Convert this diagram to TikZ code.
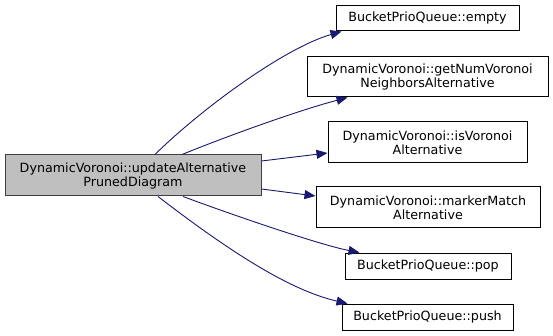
\documentclass[tikz,border=0pt]{standalone}
\usepackage{fontspec}
\setmainfont{DejaVu Sans}
\usetikzlibrary{arrows.meta,calc}
\definecolor{edgeblue}{HTML}{191970}
\definecolor{mainfill}{HTML}{BFBFBF}
\definecolor{mainborder}{HTML}{404040}
\begin{document}
\begin{tikzpicture}[x=1pt,y=-1pt,
  box/.style={draw=black,line width=1pt,fill=white,inner sep=0pt,align=center,
    font=\fontsize{12.7}{14}\selectfont},
  mainbox/.style={box,fill=mainfill,draw=mainborder},
  call/.style={draw=edgeblue,line width=0.9pt,
    -{Triangle[length=11pt,width=9pt,fill=edgeblue]}}]
\useasboundingbox (0,0) rectangle (553,336);

% caller
\node[mainbox,minimum width=256pt,minimum height=41pt] (main) at (133,175.5)
  {DynamicVoronoi::updateAlternative\\PrunedDiagram};

% callees
\node[box,minimum width=183pt,minimum height=25pt] (empty) at (427.5,18.5)
  {BucketPrioQueue::empty};
\node[box,minimum width=241pt,minimum height=40pt] (nbr) at (427.5,77)
  {DynamicVoronoi::getNumVoronoi\\NeighborsAlternative};
\node[box,minimum width=199pt,minimum height=41pt] (isv) at (427.5,142.5)
  {DynamicVoronoi::isVoronoi\\Alternative};
\node[box,minimum width=224pt,minimum height=41pt] (mm) at (428,207.5)
  {DynamicVoronoi::markerMatch\\Alternative};
\node[box,minimum width=166pt,minimum height=26pt] (pop) at (428,266)
  {BucketPrioQueue::pop};
\node[box,minimum width=171pt,minimum height=26pt] (push) at (427.5,317)
  {BucketPrioQueue::push};

% call edges (shifts are in page points, up is positive)
\draw[call] ([xshift=22pt]main.north) .. controls (200,110) and (284,48) .. ([xshift=6pt]empty.south west);
\draw[call] ([xshift=49pt]main.north) .. controls (230,135) and (300,110) .. ([xshift=41pt]nbr.south west);
\draw[call] ([yshift=14.5pt]main.east) -- ([yshift=-10.5pt]isv.west);
\draw[call] ([yshift=-13.5pt]main.east) -- ([yshift=11.5pt]mm.west);
\draw[call] ([xshift=50pt]main.south) .. controls (230,214) and (320,245) .. ([xshift=15pt]pop.north west);
\draw[call] ([xshift=25pt]main.south) .. controls (225,248) and (288,290) .. ([xshift=6pt]push.north west);
\end{tikzpicture}
\end{document}
